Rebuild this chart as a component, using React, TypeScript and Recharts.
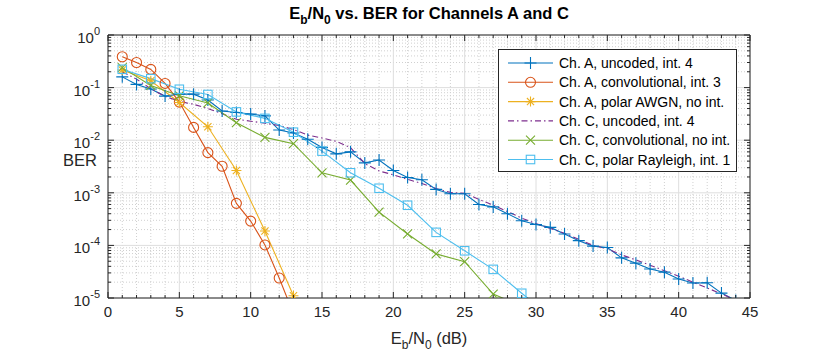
import React from 'react';
import { LineChart, Line, XAxis, YAxis, CartesianGrid } from 'recharts';

// Eb/N0 sample points (dB)
const ebnoEvery = [1, 2, 3, 4, 5, 6, 7, 8, 9, 10, 11, 12, 13, 14, 15, 16, 17, 18, 19, 20, 21, 22,
  23, 24, 25, 26, 27, 28, 29, 30, 31, 32, 33, 34, 35, 36, 37, 38, 39, 40, 41, 42, 43, 44];
const ebnoOdd = [1, 3, 5, 7, 9, 11, 13, 15, 17, 19, 21, 23, 25, 27, 29, 31];

// BER values
const chAUncoded = [0.16, 0.115, 0.094, 0.069, 0.075, 0.075, 0.058, 0.036, 0.0336, 0.0315, 0.029,
  0.0156, 0.0137, 0.0104, 0.0073, 0.0055, 0.006, 0.0037, 0.0042, 0.00265, 0.00195, 0.00177,
  0.00116, 9.6e-4, 9.6e-4, 6.0e-4, 5.4e-4, 4.0e-4, 2.95e-4, 2.5e-4, 2.2e-4, 1.65e-4, 1.23e-4,
  9.7e-5, 9.1e-5, 5.8e-5, 4.6e-5, 3.56e-5, 3.1e-5, 2.3e-5, 1.93e-5, 1.95e-5, 1.24e-5, 9e-6];
const chAConv = [0.386, 0.3, 0.222, 0.12, 0.053, 0.0175, 0.0058, 0.0032, 6.3e-4, 2.9e-4, 1.02e-4,
  2.4e-5, 5e-6];
const chAPolar = [0.216, 0.135, 0.052, 0.018, 0.00265, 1.88e-4, 1.1e-5];
const chCUncoded = [0.2, 0.145, 0.095, 0.068, 0.055, 0.048, 0.04, 0.032, 0.025, 0.023, 0.021,
  0.019, 0.016, 0.0125, 0.011, 0.0095, 0.0072, 0.0036, 0.0026, 0.0022, 0.0018, 0.0015, 0.0012,
  0.00102, 9.8e-4, 7.5e-4, 5.8e-4, 4.4e-4, 3.3e-4, 2.6e-4, 2.1e-4, 1.7e-4, 1.3e-4, 1.0e-4,
  8.6e-5, 6.6e-5, 5.3e-5, 4.2e-5, 3.3e-5, 2.6e-5, 2.0e-5, 1.55e-5, 1.2e-5, 9e-6];
const chCConv = [0.24, 0.11, 0.07, 0.051, 0.0215, 0.0113, 0.0086, 0.0024, 0.00175, 4.3e-4,
  1.65e-4, 6.9e-5, 4.9e-5, 1.19e-5, 7e-6];
const chCPolar = [0.223, 0.148, 0.093, 0.074, 0.0345, 0.026, 0.0142, 0.0062, 0.0024, 0.00122,
  5.8e-4, 1.77e-4, 7.9e-5, 3.5e-5, 1.23e-5, 4.5e-6];

const xTickValues = [0, 1, 2, 3, 4, 5, 6, 7, 8, 9, 10, 11, 12, 13, 14, 15, 16, 17, 18, 19, 20, 21,
  22, 23, 24, 25, 26, 27, 28, 29, 30, 31, 32, 33, 34, 35, 36, 37, 38, 39, 40, 41, 42, 43, 44, 45];
const xMajor = [0, 5, 10, 15, 20, 25, 30, 35, 40, 45];
const decades = [1e-5, 1e-4, 1e-3, 1e-2, 1e-1, 1];
const minorSteps = [2, 3, 4, 5, 6, 7, 8, 9];

const yMinor = decades.slice(0, -1).flatMap((d) => minorSteps.map((m) => m * d));
const yTickValues = [...decades, ...yMinor].sort((a, b) => a - b);
const xMinor = xTickValues.filter((v) => !xMajor.includes(v));

const AXIS = '#262626';
const FONT = '"Liberation Sans", Arial, Helvetica, sans-serif';

type Kind = 'plus' | 'circle' | 'star' | 'cross' | 'square' | 'none';

const series = [
  { name: 'Ch. A, uncoded, int. 4', x: ebnoEvery, y: chAUncoded, color: '#0072BD', kind: 'plus' as Kind, dash: undefined },
  { name: 'Ch. A, convolutional, int. 3', x: ebnoEvery, y: chAConv, color: '#D95319', kind: 'circle' as Kind, dash: undefined },
  { name: 'Ch. A, polar AWGN, no int.', x: ebnoOdd, y: chAPolar, color: '#EDB120', kind: 'star' as Kind, dash: undefined },
  { name: 'Ch. C, uncoded, int. 4', x: ebnoEvery, y: chCUncoded, color: '#7E2F8E', kind: 'none' as Kind, dash: '6 3 1.5 3' },
  { name: 'Ch. C, convolutional, no int.', x: ebnoOdd, y: chCConv, color: '#77AC30', kind: 'cross' as Kind, dash: undefined },
  { name: 'Ch. C, polar Rayleigh, int. 1', x: ebnoOdd, y: chCPolar, color: '#4DBEEE', kind: 'square' as Kind, dash: undefined },
];

function Marker({ cx, cy, kind, color }: { cx: number; cy: number; kind: Kind; color: string }) {
  if (cx == null || cy == null || kind === 'none') return <g />;
  const p = { stroke: color, strokeWidth: 1.1, fill: 'none' };
  switch (kind) {
    case 'plus':
      return <path d={`M${cx - 6},${cy}H${cx + 6}M${cx},${cy - 6}V${cy + 6}`} {...p} />;
    case 'circle':
      return <circle cx={cx} cy={cy} r={5} {...p} />;
    case 'star':
      return (
        <path
          d={`M${cx - 5},${cy}H${cx + 5}M${cx},${cy - 5}V${cy + 5}M${cx - 3.6},${cy - 3.6}L${cx + 3.6},${cy + 3.6}M${cx - 3.6},${cy + 3.6}L${cx + 3.6},${cy - 3.6}`}
          {...p}
        />
      );
    case 'cross':
      return <path d={`M${cx - 4.5},${cy - 4.5}L${cx + 4.5},${cy + 4.5}M${cx - 4.5},${cy + 4.5}L${cx + 4.5},${cy - 4.5}`} {...p} />;
    case 'square':
      return <rect x={cx - 4.25} y={cy - 4.25} width={8.5} height={8.5} {...p} />;
  }
  return <g />;
}

const isDecade = (v: number) => {
  const e = Math.round(Math.log10(v));
  return Math.abs(v / Math.pow(10, e) - 1) < 1e-6;
};

const BottomTick = (props: any) => {
  const { x, y, payload } = props;
  const major = xMajor.includes(payload.value);
  return (
    <g>
      <line x1={x} x2={x} y1={y} y2={y - (major ? 6 : 3)} stroke={AXIS} />
      {major && (
        <text x={x} y={y + 19} textAnchor="middle" fontSize={15} fill={AXIS} fontFamily={FONT}>
          {payload.value}
        </text>
      )}
    </g>
  );
};

const TopTick = (props: any) => {
  const { x, y, payload } = props;
  const major = xMajor.includes(payload.value);
  return <line x1={x} x2={x} y1={y} y2={y + (major ? 6 : 3)} stroke={AXIS} />;
};

const LeftTick = (props: any) => {
  const { x, y, payload } = props;
  const major = isDecade(payload.value);
  const e = Math.round(Math.log10(payload.value));
  return (
    <g>
      <line x1={x} x2={x + (major ? 6 : 3)} y1={y} y2={y} stroke={AXIS} />
      {major && (
        <text x={x - 8} y={y + 8} textAnchor="end" fontSize={15} fill={AXIS} fontFamily={FONT}>
          10
          <tspan dy={-8} fontSize={11}>{e}</tspan>
        </text>
      )}
    </g>
  );
};

const RightTick = (props: any) => {
  const { x, y, payload } = props;
  const major = isDecade(payload.value);
  return <line x1={x} x2={x - (major ? 6 : 3)} y1={y} y2={y} stroke={AXIS} />;
};

function LegendBox() {
  const rowH = 19.3;
  return (
    <svg
      width={239}
      height={123}
      style={{ position: 'absolute', left: 498, top: 49, overflow: 'visible' }}
    >
      <rect x={0.5} y={0.5} width={238} height={122} fill="#fff" stroke={AXIS} />
      {series.map((s, i) => {
        const cy = 14 + i * rowH;
        return (
          <g key={s.name}>
            <line x1={10} x2={55} y1={cy} y2={cy} stroke={s.color} strokeWidth={1.1} strokeDasharray={s.dash} />
            <Marker cx={32.5} cy={cy} kind={s.kind} color={s.color} />
            <text x={61} y={cy + 5} fontSize={14} fill="#000" fontFamily={FONT}>
              {s.name}
            </text>
          </g>
        );
      })}
    </svg>
  );
}

export default function App() {
  return (
    <div style={{ position: 'absolute', left: 0, top: 0, width: 830, height: 356, background: '#fff', fontFamily: FONT }}>
      <LineChart width={830} height={356} margin={{ top: 34, right: 79, bottom: 57, left: 107 }}>
        <CartesianGrid stroke="#d0d0d0" strokeDasharray="1 2" horizontalValues={yMinor} verticalValues={xMinor} />
        <CartesianGrid stroke="#dedede" horizontalValues={decades} verticalValues={xMajor} />
        <XAxis
          type="number"
          dataKey="x"
          domain={[0, 45]}
          ticks={xTickValues}
          interval={0}
          height={1}
          tickSize={0}
          tickMargin={0}
          tickLine={false}
          stroke={AXIS}
          tick={BottomTick}
          allowDataOverflow
        />
        <XAxis
          xAxisId="top"
          orientation="top"
          type="number"
          dataKey="x"
          domain={[0, 45]}
          ticks={xTickValues}
          interval={0}
          height={1}
          tickSize={0}
          tickMargin={0}
          tickLine={false}
          stroke={AXIS}
          tick={TopTick}
          allowDataOverflow
        />
        <YAxis
          type="number"
          scale="log"
          domain={[1e-5, 1]}
          ticks={yTickValues}
          interval={0}
          width={1}
          tickSize={0}
          tickMargin={0}
          tickLine={false}
          stroke={AXIS}
          tick={LeftTick}
          allowDataOverflow
        />
        <YAxis
          yAxisId="right"
          orientation="right"
          type="number"
          scale="log"
          domain={[1e-5, 1]}
          ticks={yTickValues}
          interval={0}
          width={1}
          tickSize={0}
          tickMargin={0}
          tickLine={false}
          stroke={AXIS}
          tick={RightTick}
          allowDataOverflow
        />
        {series.map((s) => (
          <Line
            key={s.name}
            data={s.y.map((v, i) => ({ x: s.x[i], y: v }))}
            dataKey="y"
            type="linear"
            stroke={s.color}
            strokeWidth={1.1}
            strokeDasharray={s.dash}
            isAnimationActive={false}
            dot={(p: any) => <Marker key={`${s.name}-${p.index}`} cx={p.cx} cy={p.cy} kind={s.kind} color={s.color} />}
            activeDot={false}
          />
        ))}
      </LineChart>
      <LegendBox />
      <svg width={830} height={356} style={{ position: 'absolute', left: 0, top: 0, pointerEvents: 'none' }}>
        <text x={429} y={19} textAnchor="middle" fontSize={16.5} fontWeight="bold" fill="#000" fontFamily={FONT}>
          E<tspan fontSize={12} dy={5}>b</tspan>
          <tspan dy={-5}>/N</tspan>
          <tspan fontSize={12} dy={5}>0</tspan>
          <tspan dy={-5}> vs. BER for Channels A and C</tspan>
        </text>
        <text x={429} y={344} textAnchor="middle" fontSize={16.5} fill={AXIS} fontFamily={FONT}>
          E<tspan fontSize={12} dy={5}>b</tspan>
          <tspan dy={-5}>/N</tspan>
          <tspan fontSize={12} dy={5}>0</tspan>
          <tspan dy={-5}> (dB)</tspan>
        </text>
        <text x={97} y={166} textAnchor="end" fontSize={16.5} fill={AXIS} fontFamily={FONT}>
          BER
        </text>
      </svg>
    </div>
  );
}
